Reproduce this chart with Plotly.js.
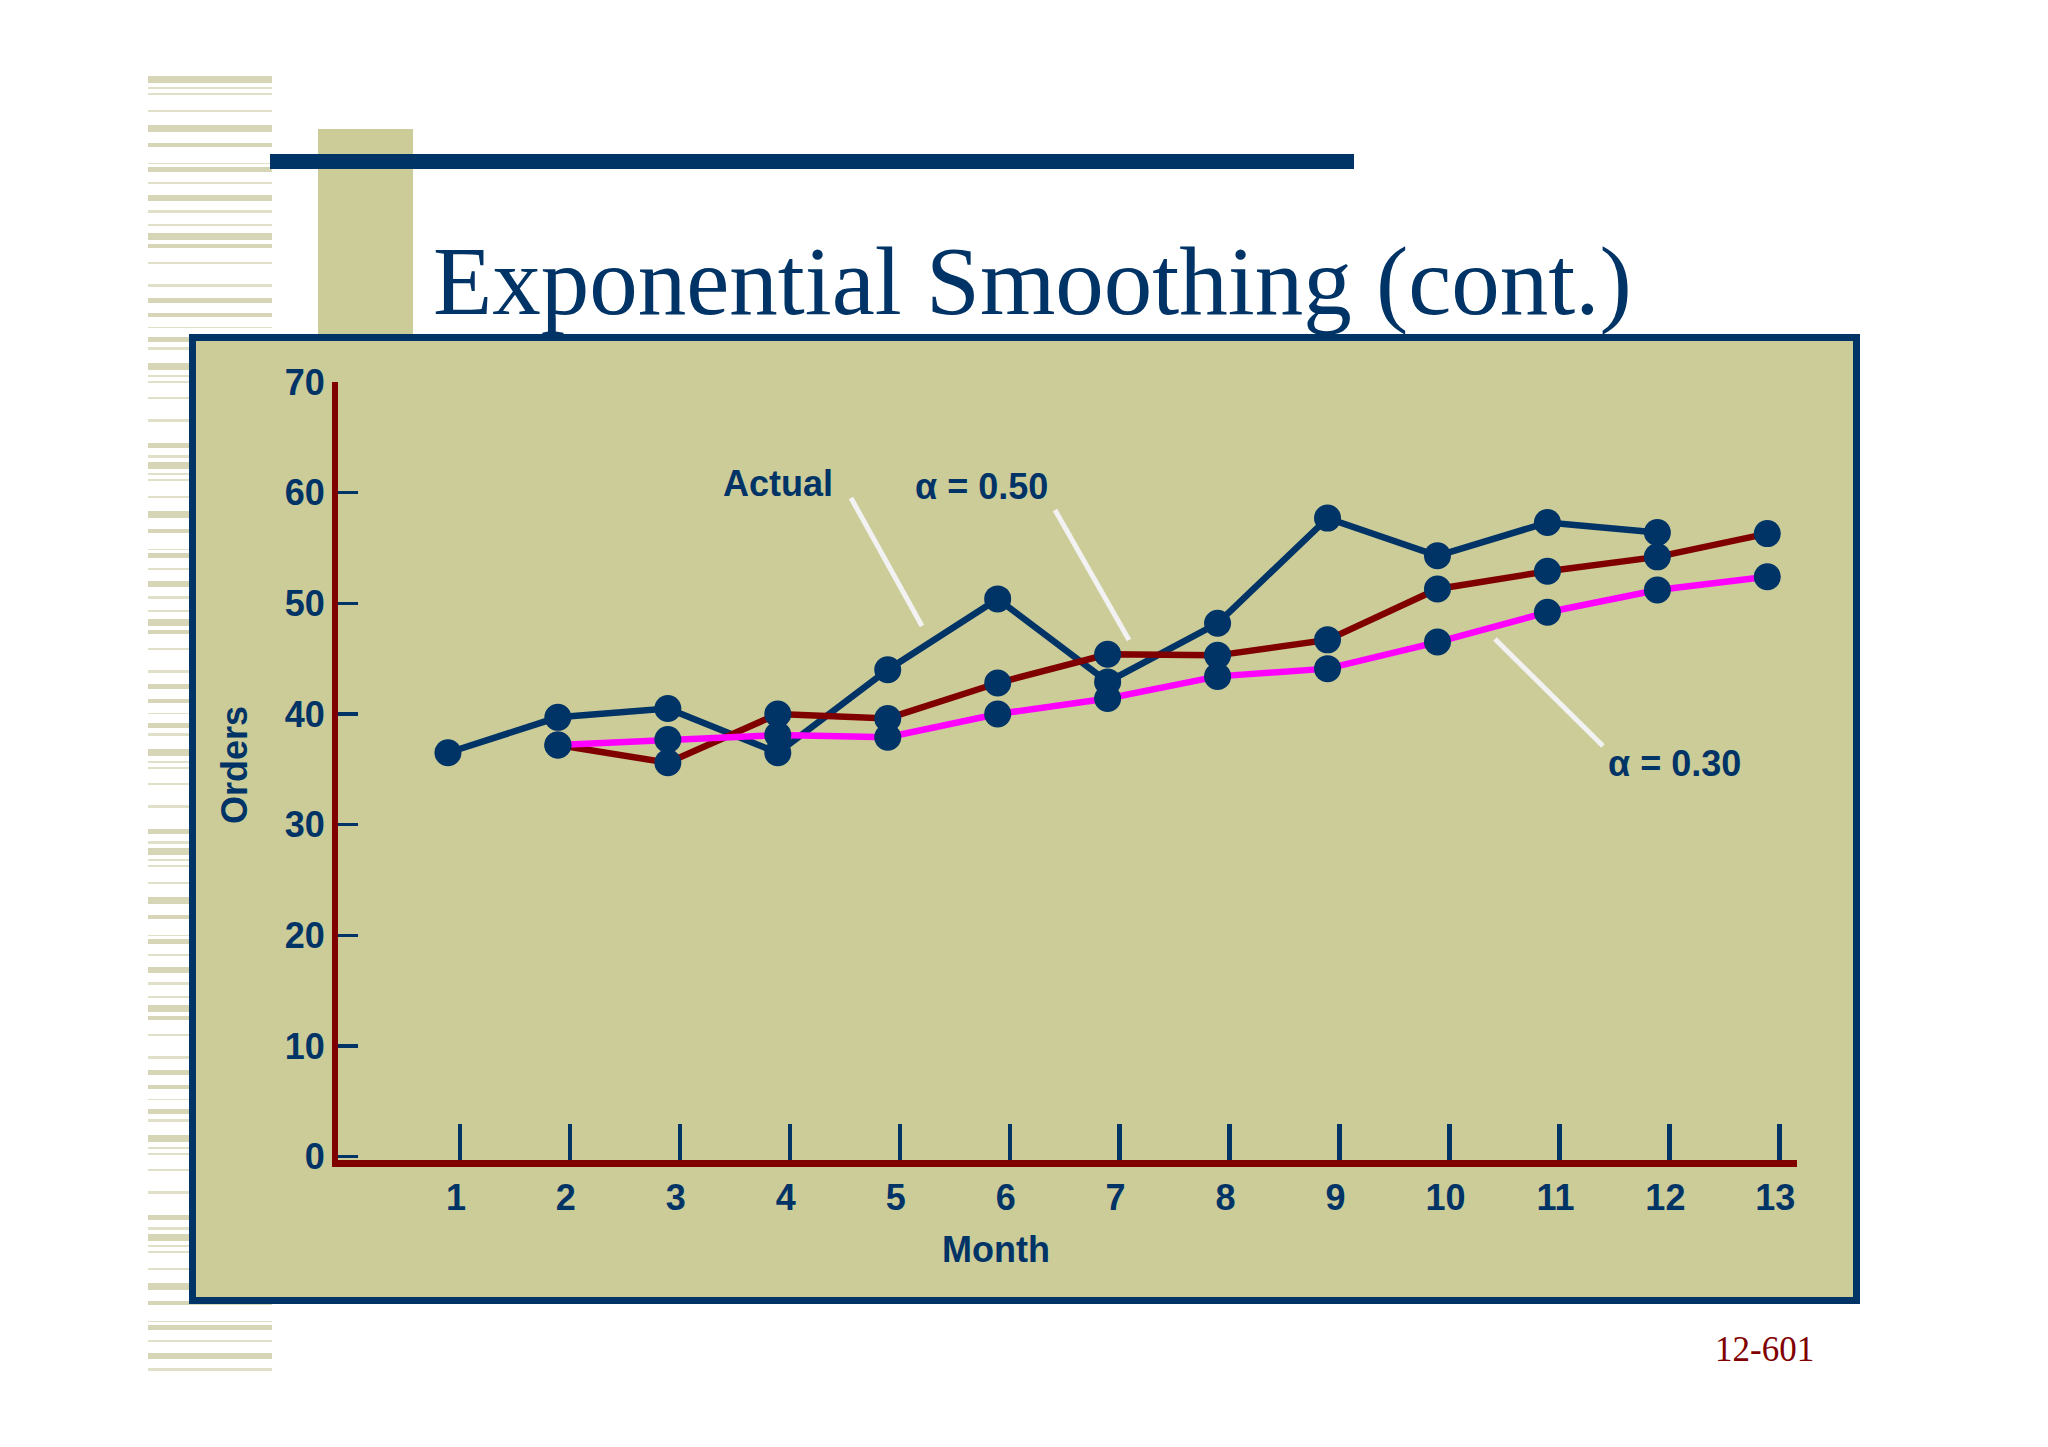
<!DOCTYPE html>
<html>
<head>
<meta charset="utf-8">
<script src="https://cdn.plot.ly/plotly-3.0.1.min.js"></script>
<style>
  html, body { margin: 0; padding: 0; background: #ffffff; }
  #chart { width: 2048px; height: 1447px; }
</style>
</head>
<body>
<div id="chart"></div>
<script>
// data
var actualMonths = [1, 2, 3, 4, 5, 6, 7, 8, 9, 10, 11, 12];
var actualOrders = [36.5, 39.7, 40.5, 36.5, 44.0, 50.4, 42.9, 48.2, 57.7, 54.3, 57.3, 56.4];
var forecastMonths = [2, 3, 4, 5, 6, 7, 8, 9, 10, 11, 12, 13];
var alpha50 = [37.2, 35.6, 40.0, 39.6, 42.8, 45.4, 45.3, 46.7, 51.3, 52.9, 54.2, 56.3];
var alpha30 = [37.2, 37.7, 38.1, 37.9, 40.0, 41.4, 43.4, 44.1, 46.5, 49.2, 51.2, 52.4];
var monthTicks = [1, 2, 3, 4, 5, 6, 7, 8, 9, 10, 11, 12, 13];
var monthLabels = ["1", "2", "3", "4", "5", "6", "7", "8", "9", "10", "11", "12", "13"];
var orderTicks = [0, 10, 20, 30, 40, 50, 60, 70];

var navy = "#003366",
    darkRed = "#800000",
    magenta = "#ff00ff",
    khaki = "#cccc99";
var sans = "Liberation Sans, Arial, sans-serif",
    serif = "Liberation Serif, Times New Roman, serif";

// plot area in page pixels
var L = 338, R = 1797, T = 382, B = 1160;
function px(x) { return (x - L) / (R - L); }
function py(y) { return (B - y) / (B - T); }

function rect(x0, y0, x1, y1, fill, line) {
    return {
        type: "rect", xref: "paper", yref: "paper", layer: "below",
        x0: px(x0), x1: px(x1), y0: py(y0), y1: py(y1),
        fillcolor: fill,
        line: line || { width: 0 }
    };
}

function seg(x0, y0, x1, y1) {
    return {
        type: "line", xref: "paper", yref: "paper", layer: "above",
        x0: px(x0), x1: px(x1), y0: py(y0), y1: py(y1),
        line: { color: "#f2f2f2", width: 5 }
    };
}

var shapes = [];

// striped band down the left side
var stripes = [[0, 7], [11, 13], [17, 19], [34, 36], [49, 56], [67, 71], [87, 88], [91, 96],
    [106, 108], [119, 125], [134, 137], [148, 150], [157, 164], [168, 172], [186, 188],
    [208, 211], [222, 227], [237, 241], [251, 252], [261, 266], [271, 274], [287, 294],
    [299, 301], [305, 307], [321, 323], [343, 346], [367, 372], [379, 382]];
for (var band = 76; band < 1370; band += 386) {
    stripes.forEach(function (s) {
        if (band + s[1] <= 1372) {
            var thick = s[1] - s[0] > 3;
            shapes.push(rect(148, band + s[0], 272, band + s[1], thick ? "#d6d6b6" : "#e0e0c8"));
        }
    });
}

shapes.push(rect(318, 129, 413, 340, khaki));
shapes.push(rect(270, 154, 1354, 169, navy));
shapes.push(rect(192.5, 337.5, 1856.5, 1300.5, khaki, { color: navy, width: 7 }));

// pointer lines to the labels
shapes.push(seg(851, 498, 922, 626));
shapes.push(seg(1055, 510, 1129, 640));
shapes.push(seg(1495, 639, 1603, 746));

function label(text, x, y, size, font, color, extra) {
    var a = {
        text: text, xref: "paper", yref: "paper",
        x: px(x), y: py(y), xanchor: "center", yanchor: "middle",
        showarrow: false,
        font: { family: font, size: size, color: color }
    };
    for (var k in extra) a[k] = extra[k];
    return a;
}

var bold = { family: sans, size: 36, color: navy, weight: "bold" };

var annotations = [
    label("Exponential Smoothing (cont.)", 431, 281, 97, serif, navy, { xanchor: "left" }),
    label("12-601", 1764, 1349, 35, serif, darkRed),
    label("Actual", 778, 483, 36, sans, navy),
    label("α = 0.50", 981, 486, 36, sans, navy),
    label("α = 0.30", 1674, 763, 36, sans, navy),
    label("Month", 996, 1249, 36, sans, navy),
    label("Orders", 234, 765, 36, sans, navy, { textangle: -90 })
];
annotations.forEach(function (a, i) { if (i > 1) a.font.weight = "bold"; });

var data = [
    { x: actualMonths, y: actualOrders, mode: "lines", line: { color: navy, width: 6.5 }, name: "Actual" },
    { x: forecastMonths, y: alpha50, mode: "lines", line: { color: darkRed, width: 6.5 }, name: "α = 0.50" },
    { x: forecastMonths, y: alpha30, mode: "lines", line: { color: magenta, width: 6.5 }, name: "α = 0.30" },
    { x: actualMonths, y: actualOrders, mode: "markers", marker: { color: navy, size: 27 }, showlegend: false },
    { x: forecastMonths, y: alpha50, mode: "markers", marker: { color: navy, size: 27 }, showlegend: false },
    { x: forecastMonths, y: alpha30, mode: "markers", marker: { color: navy, size: 27 }, showlegend: false },
    // empty trace so the tick-mark scale gets drawn
    { x: [], y: [], xaxis: "x2", yaxis: "y", mode: "lines", showlegend: false, hoverinfo: "skip" }
];

var layout = {
    width: 2048,
    height: 1447,
    autosize: false,
    showlegend: false,
    paper_bgcolor: "#ffffff",
    plot_bgcolor: "rgba(0,0,0,0)",
    margin: { l: L, r: 2048 - R, t: T, b: 1447 - B, pad: 0 },
    xaxis: {
        range: [0, 13.27],
        tickvals: monthTicks,
        ticktext: monthLabels,
        ticks: "",
        ticklabelshift: 8,
        showline: true,
        linecolor: darkRed,
        linewidth: 7,
        showgrid: false,
        zeroline: false,
        tickfont: bold
    },
    // second scale only to draw the tick marks where the slide has them
    xaxis2: {
        overlaying: "x",
        anchor: "y",
        side: "bottom",
        range: [-0.11, 13.16],
        tickvals: monthTicks,
        ticks: "inside",
        ticklen: 36,
        tickwidth: 4.5,
        tickcolor: navy,
        showticklabels: false,
        showline: false,
        showgrid: false,
        zeroline: false
    },
    yaxis: {
        range: [-0.3, 70],
        tickvals: orderTicks,
        ticks: "inside",
        ticklen: 20,
        tickwidth: 3.5,
        tickcolor: navy,
        showline: true,
        linecolor: darkRed,
        linewidth: 6,
        showgrid: false,
        zeroline: false,
        tickfont: bold
    },
    shapes: shapes,
    annotations: annotations
};

Plotly.newPlot("chart", data, layout, { displayModeBar: false, staticPlot: true });
</script>
</body>
</html>
